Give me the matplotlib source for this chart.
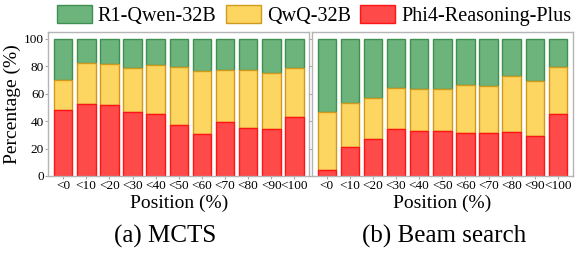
import matplotlib
matplotlib.use("Agg")
import matplotlib.pyplot as plt
import numpy as np

plt.rcParams['font.family'] = ['Liberation Serif', 'DejaVu Serif']

positions = ["<0", "<10", "<20", "<30", "<40", "<50", "<60", "<70", "<80", "<90", "<100"]

# MCTS: share of each model (%), bottom to top
mcts_phi4 = [48.2, 52.6, 52.1, 46.9, 45.2, 37.2, 30.3, 39.1, 35.2, 34.2, 43.3]
mcts_qwq = [22.0, 29.6, 29.8, 31.6, 35.5, 42.3, 46.0, 38.4, 42.3, 41.1, 35.7]
mcts_r1 = [29.8, 17.8, 18.1, 21.5, 19.3, 20.5, 23.7, 22.5, 22.5, 24.7, 21.0]

# Beam search
beam_phi4 = [4.2, 21.0, 27.1, 34.0, 33.0, 33.0, 31.3, 31.3, 32.0, 29.1, 45.5]
beam_qwq = [42.7, 32.3, 29.6, 30.5, 30.1, 30.6, 34.7, 34.5, 40.9, 39.8, 34.2]
beam_r1 = [53.1, 46.7, 43.3, 35.5, 36.9, 36.4, 34.0, 34.2, 27.1, 31.1, 20.3]

labels = ["R1-Qwen-32B", "QwQ-32B", "Phi4-Reasoning-Plus"]
face = {"r1": "#6db47c", "qwq": "#fdd662", "phi4": "#ff4a4a"}
edge = {"r1": "#3f8f50", "qwq": "#d09a1c", "phi4": "#ff1515"}


def draw_panel(ax, phi4, qwq, r1, show_ylabels):
  x = np.arange(len(positions))
  phi4 = np.array(phi4)
  qwq = np.array(qwq)
  r1 = np.array(r1)
  bars = []
  bars.append(ax.bar(x, r1, 0.8, bottom=phi4 + qwq, color=face["r1"], edgecolor=edge["r1"], linewidth=1))
  bars.append(ax.bar(x, qwq, 0.8, bottom=phi4, color=face["qwq"], edgecolor=edge["qwq"], linewidth=1))
  bars.append(ax.bar(x, phi4, 0.8, color=face["phi4"], edgecolor=edge["phi4"], linewidth=1))

  ax.set_xlim(-0.64, 10.64)
  ax.set_ylim(0, 105)
  ax.set_yticks([0, 20, 40, 60, 80, 100])
  ax.set_xticks(x)
  ax.set_xticklabels(positions, fontsize=9.5)
  ax.tick_params(axis='both', length=2, color='#aaaaaa', pad=1)
  ax.tick_params(axis='y', labelsize=9.5)
  if not show_ylabels:
    ax.set_yticklabels([])
  for sp in ax.spines.values():
    sp.set_color('#b5b5b5')
    sp.set_linewidth(1)
  ax.set_xlabel("Position (%)", fontsize=14, labelpad=2)
  return bars


fig = plt.figure(figsize=(5.87, 2.58), dpi=100)
ax1 = fig.add_axes([0.0823, 0.318, 0.4446, 0.558])
ax2 = fig.add_axes([0.5315, 0.318, 0.4441, 0.558])

bars = draw_panel(ax1, mcts_phi4, mcts_qwq, mcts_r1, True)
draw_panel(ax2, beam_phi4, beam_qwq, beam_r1, False)
ax1.set_ylabel("Percentage (%)", fontsize=14, labelpad=2)

fig.legend(bars, labels, loc='center', bbox_to_anchor=(0.535, 0.94), ncol=3,
           frameon=False, fontsize=14.5, handlelength=1.75, handleheight=0.95,
           handletextpad=0.3, columnspacing=0.45, borderaxespad=0)

fig.text(165 / 587, 1 - 236 / 258, "(a) MCTS", fontsize=18, ha='center', va='center')
fig.text(444 / 587, 1 - 236 / 258, "(b) Beam search", fontsize=18, ha='center', va='center')

fig.savefig("out.png", dpi=100)
